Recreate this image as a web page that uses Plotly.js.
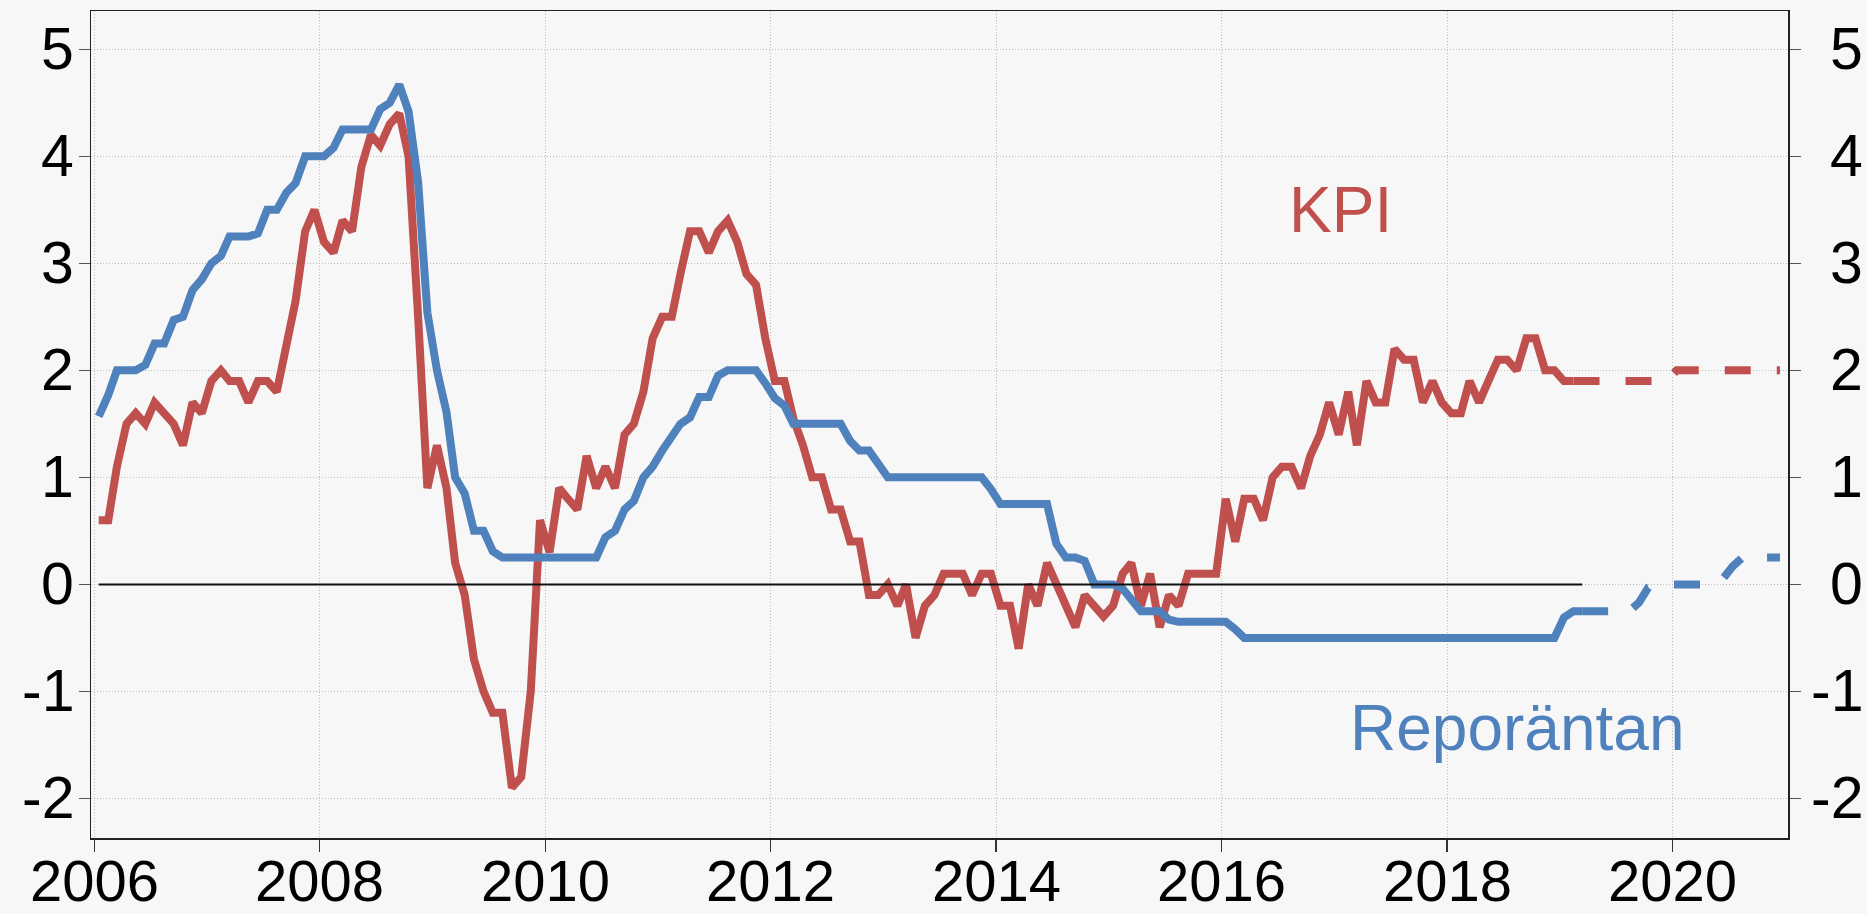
<!DOCTYPE html>
<html>
<head>
<meta charset="utf-8">
<script src="https://cdn.plot.ly/plotly-3.0.1.min.js"></script>
<style>
  html, body { margin: 0; padding: 0; background: #f7f7f7; }
  #chart { width: 1867px; height: 914px; }
</style>
</head>
<body>
<div id="chart"></div>
<script>
// ---- Data (monthly, plotted mid-month) ----
// KPI, annual % change, Jan 2006 - Feb 2019
const kpiStart = [2006, 1];
const kpi = [
  0.6, 0.6, 1.1, 1.5, 1.6, 1.5, 1.7, 1.6, 1.5, 1.3, 1.7, 1.6,
  1.9, 2.0, 1.9, 1.9, 1.7, 1.9, 1.9, 1.8, 2.2, 2.65, 3.3, 3.5,
  3.2, 3.1, 3.4, 3.3, 3.9, 4.2, 4.1, 4.3, 4.4, 4.0, 2.5, 0.9,
  1.3, 0.9, 0.2, -0.1, -0.7, -1.0, -1.2, -1.2, -1.9, -1.8, -1.0, 0.6,
  0.3, 0.9, 0.8, 0.7, 1.2, 0.9, 1.1, 0.9, 1.4, 1.5, 1.8, 2.3,
  2.5, 2.5, 2.9, 3.3, 3.3, 3.1, 3.3, 3.4, 3.2, 2.9, 2.8, 2.3,
  1.9, 1.9, 1.55, 1.3, 1.0, 1.0, 0.7, 0.7, 0.4, 0.4, -0.1, -0.1,
  0.0, -0.2, 0.0, -0.5, -0.2, -0.1, 0.1, 0.1, 0.1, -0.1, 0.1, 0.1,
  -0.2, -0.2, -0.6, 0.0, -0.2, 0.2, 0.0, -0.2, -0.4, -0.1, -0.2, -0.3,
  -0.2, 0.1, 0.2, -0.2, 0.1, -0.4, -0.1, -0.2, 0.1, 0.1, 0.1, 0.1,
  0.8, 0.4, 0.8, 0.8, 0.6, 1.0, 1.1, 1.1, 0.9, 1.2, 1.4, 1.7,
  1.4, 1.8, 1.3, 1.9, 1.7, 1.7, 2.2, 2.1, 2.1, 1.7, 1.9, 1.7,
  1.6, 1.6, 1.9, 1.7, 1.9, 2.1, 2.1, 2.0, 2.3, 2.3, 2.0, 2.0,
  1.9, 1.9
];
// KPI forecast, Feb 2019 - Dec 2020
const kpiFcStart = [2019, 2];
const kpiForecast = [
  1.9, 1.9, 1.9, 1.9, 1.9, 1.9, 1.9, 1.9, 1.9, 1.9, 1.9,
  2.0, 2.0, 2.0, 2.0, 2.0, 2.0, 2.0, 2.0, 2.0, 2.0, 2.0, 2.0
];
// Repo rate, monthly average, Jan 2006 - Mar 2019
const repoStart = [2006, 1];
const repo = [
  1.57, 1.77, 2.0, 2.0, 2.0, 2.05, 2.25, 2.25, 2.47, 2.5, 2.75, 2.85,
  3.0, 3.07, 3.25, 3.25, 3.25, 3.28, 3.5, 3.5, 3.66, 3.75, 4.0, 4.0,
  4.0, 4.08, 4.25, 4.25, 4.25, 4.25, 4.44, 4.5, 4.67, 4.42, 3.76, 2.54,
  2.0, 1.61, 1.0, 0.85, 0.5, 0.5, 0.31, 0.25, 0.25, 0.25, 0.25, 0.25,
  0.25, 0.25, 0.25, 0.25, 0.25, 0.25, 0.44, 0.5, 0.7, 0.78, 1.0, 1.1,
  1.25, 1.37, 1.5, 1.56, 1.75, 1.75, 1.95, 2.0, 2.0, 2.0, 2.0, 1.88,
  1.74, 1.67, 1.5, 1.5, 1.5, 1.5, 1.5, 1.5, 1.34, 1.25, 1.25, 1.14,
  1.0, 1.0, 1.0, 1.0, 1.0, 1.0, 1.0, 1.0, 1.0, 1.0, 1.0, 0.89,
  0.75, 0.75, 0.75, 0.75, 0.75, 0.75, 0.38, 0.25, 0.25, 0.22, 0.0, 0.0,
  0.0, -0.04, -0.13, -0.25, -0.25, -0.25, -0.33, -0.35, -0.35, -0.35, -0.35, -0.35,
  -0.35, -0.42, -0.5, -0.5, -0.5, -0.5, -0.5, -0.5, -0.5, -0.5, -0.5, -0.5,
  -0.5, -0.5, -0.5, -0.5, -0.5, -0.5, -0.5, -0.5, -0.5, -0.5, -0.5, -0.5,
  -0.5, -0.5, -0.5, -0.5, -0.5, -0.5, -0.5, -0.5, -0.5, -0.5, -0.5, -0.5,
  -0.31, -0.25, -0.25
];
// Repo rate forecast, Mar 2019 - Dec 2020
const repoFcStart = [2019, 3];
const repoForecast = [
  -0.25, -0.25, -0.25, -0.25, -0.25, -0.25, -0.17, -0.03, 0.0, 0.0,
  0.0, 0.0, 0.0, 0.0, 0.0, 0.06, 0.17, 0.25, 0.25, 0.25, 0.25, 0.25
];
// Zero reference line, Jan 2006 - Mar 2019
const zeroStart = [2006, 1];
const zeroLine = [0, 0];
const zeroEnd = [2019, 3];

const yTickVals = [-2, -1, 0, 1, 2, 3, 4, 5];
const yTickText = ['-2', '-1', '0', '1', '2', '3', '4', '5'];
const xTickYears = [2006, 2008, 2010, 2012, 2014, 2016, 2018, 2020];
const seriesLabels = ['KPI', 'Reporäntan'];

// ---- helpers ----
function monthDate(start, k) {
  const total = start[0] * 12 + (start[1] - 1) + k;
  const y = Math.floor(total / 12);
  const m = total % 12 + 1;
  return y + '-' + String(m).padStart(2, '0') + '-15';
}
function dates(start, n) {
  const out = [];
  for (let k = 0; k < n; k++) out.push(monthDate(start, k));
  return out;
}

const RED = '#C0504D';
const BLUE = '#4F81BD';
const FONT = 'Liberation Sans, Arial, sans-serif';
const LW = 8;
const TICKFONT = { family: FONT, size: 59, color: '#000000' };
const XTICKFONT = { family: FONT, size: 58, color: '#000000' };

const traces = [
  { x: dates(kpiStart, kpi.length), y: kpi, type: 'scatter', mode: 'lines',
    line: { color: RED, width: LW }, hoverinfo: 'skip' },
  { x: dates(kpiFcStart, kpiForecast.length), y: kpiForecast, type: 'scatter', mode: 'lines',
    line: { color: RED, width: LW, dash: '26px,26px' }, hoverinfo: 'skip' },
  { x: dates(repoStart, repo.length), y: repo, type: 'scatter', mode: 'lines',
    line: { color: BLUE, width: LW }, hoverinfo: 'skip' },
  { x: dates(repoFcStart, repoForecast.length), y: repoForecast, type: 'scatter', mode: 'lines',
    line: { color: BLUE, width: LW, dash: '26px,26px' }, hoverinfo: 'skip' },
  { x: [monthDate(zeroStart, 0), monthDate(zeroEnd, 0)], y: zeroLine, type: 'scatter', mode: 'lines',
    line: { color: '#111111', width: 2 }, hoverinfo: 'skip' }
];

const annotations = [];
// left and right tick labels
yTickVals.forEach((v, k) => {
  annotations.push({
    xref: 'paper', yref: 'y', x: 0, y: v, xanchor: 'right', yanchor: 'middle',
    xshift: -15, text: yTickText[k], showarrow: false, font: TICKFONT
  });
  annotations.push({
    xref: 'paper', yref: 'y', x: 1, y: v, xanchor: 'right', yanchor: 'middle',
    xshift: 77, text: yTickText[k], showarrow: false, font: TICKFONT
  });
});
// bottom tick labels
xTickYears.forEach(yr => {
  annotations.push({
    xref: 'x', yref: 'paper', x: yr + '-01-01', y: 0, xanchor: 'center', yanchor: 'middle',
    yshift: -42, text: String(yr), showarrow: false, font: XTICKFONT
  });
});
annotations.push({
  xref: 'paper', yref: 'y', x: 0.7364, y: 3.5, xanchor: 'center', yanchor: 'middle',
  text: seriesLabels[0], showarrow: false, font: { family: FONT, size: 64, color: RED }
});
annotations.push({
  xref: 'paper', yref: 'y', x: 0.8401, y: -1.34, xanchor: 'center', yanchor: 'middle',
  text: seriesLabels[1], showarrow: false, font: { family: FONT, size: 64, color: BLUE }
});

const layout = {
  width: 1867, height: 914,
  margin: { l: 91, r: 79, t: 11, b: 76, pad: 0 },
  paper_bgcolor: '#f7f7f7',
  plot_bgcolor: '#f7f7f7',
  showlegend: false,
  font: { family: FONT, size: 59, color: '#000000' },
  xaxis: {
    type: 'date',
    range: ['2005-12-21', '2021-01-10'],
    tickvals: xTickYears.map(y => y + '-01-01'),
    ticktext: xTickYears.map(String),
    showticklabels: false,
    ticks: 'outside', ticklen: 12, tickwidth: 1.5, tickcolor: '#333333',
    showline: true, linecolor: '#222222', linewidth: 1.5, mirror: true,
    showgrid: true, gridcolor: '#bdbdbd', gridwidth: 1, griddash: '1px,2px',
    zeroline: false
  },
  yaxis: {
    range: [-2.37, 5.358],
    tickvals: yTickVals,
    ticktext: yTickText,
    showticklabels: false,
    ticks: 'outside', ticklen: 11, tickwidth: 1.5, tickcolor: '#555555',
    showline: true, linecolor: '#222222', linewidth: 1.5, mirror: 'ticks',
    showgrid: true, gridcolor: '#bdbdbd', gridwidth: 1, griddash: '1px,2px',
    zeroline: false
  },
  annotations: annotations
};

Plotly.newPlot('chart', traces, layout, { staticPlot: true, displayModeBar: false });
</script>
</body>
</html>
